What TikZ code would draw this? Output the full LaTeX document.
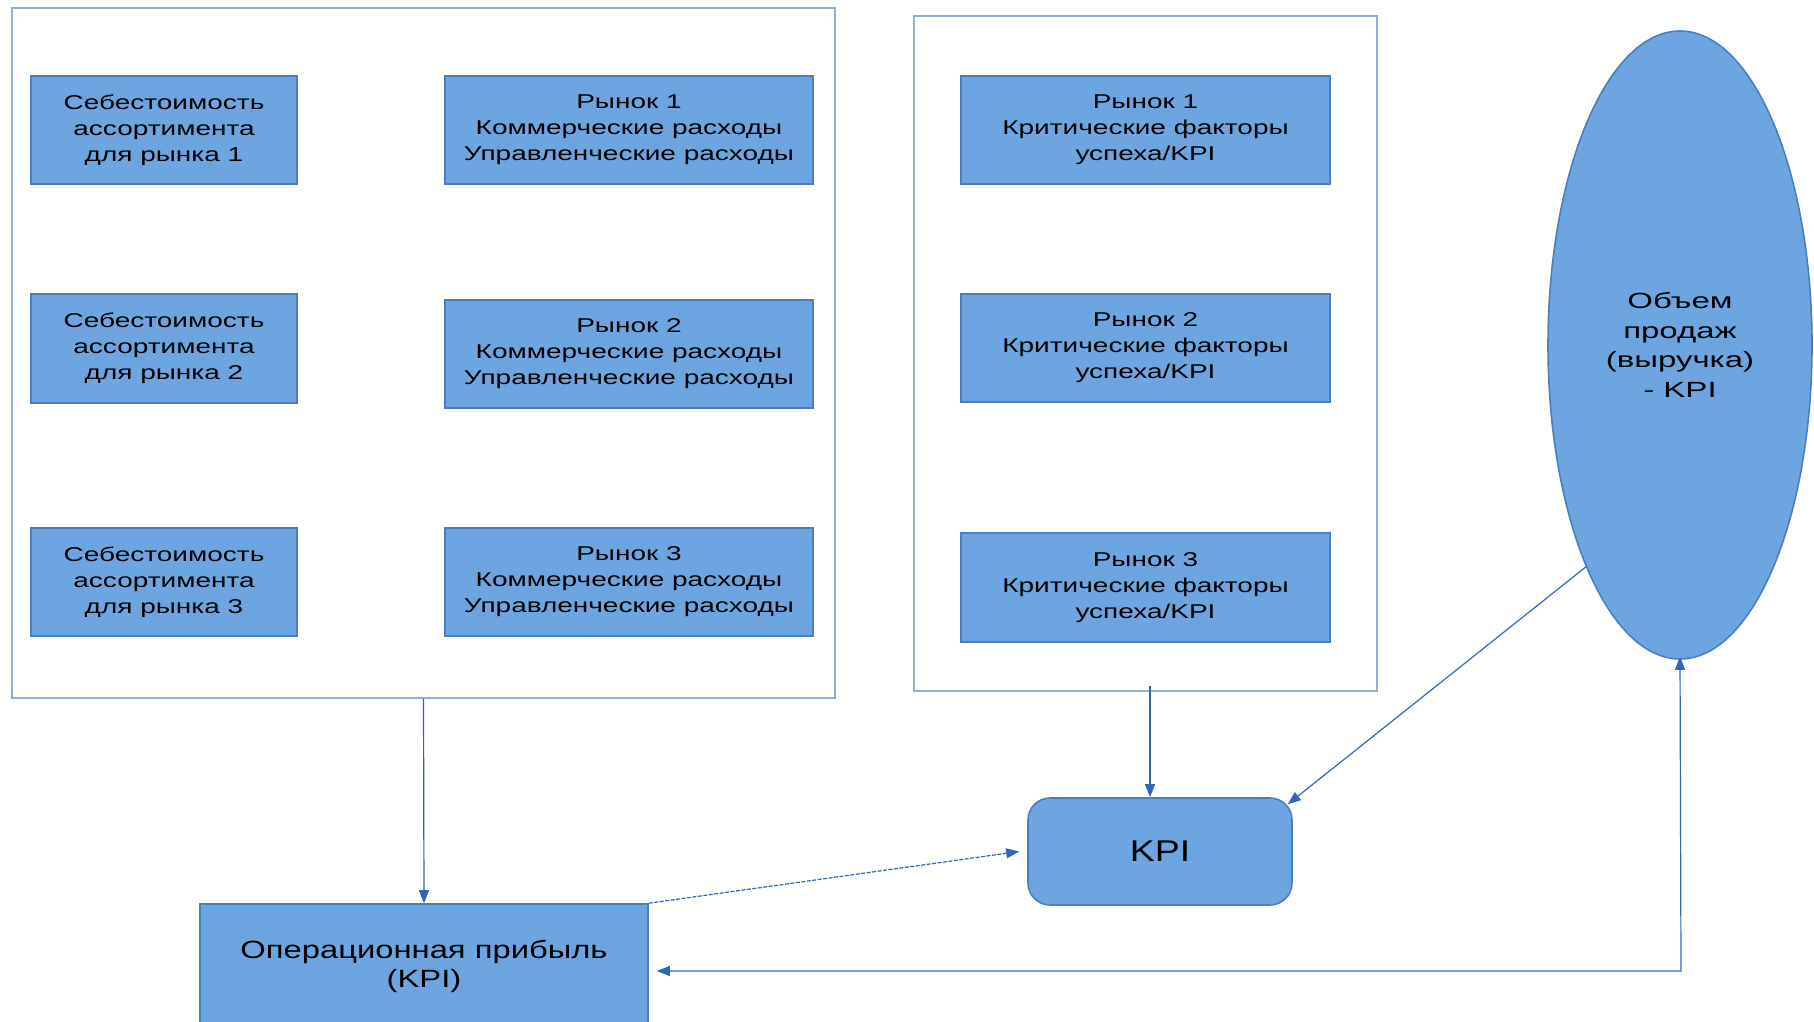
\documentclass[tikz,border=0pt]{standalone}
\usepackage{fontspec}
\setmainfont[FakeStretch=1.25]{Liberation Sans}
\newfontfamily\boxfont[FakeStretch=1.4]{Liberation Sans}
\newfontfamily\ellfont[FakeStretch=1.5]{Liberation Sans}
\newfontfamily\opfont[FakeStretch=1.31]{Liberation Sans}
\usetikzlibrary{arrows.meta,shapes.geometric,calc}
\definecolor{boxfill}{HTML}{6CA5DF}
\definecolor{boxline}{HTML}{4A7EC2}
\definecolor{frameline}{HTML}{8FAEDC}
\definecolor{arrowline}{HTML}{2E67B6}
\begin{document}
\begin{tikzpicture}[x=1pt,y=-1pt,
  box/.style={draw=boxline,line width=1.6pt,fill=boxfill,align=center,inner sep=0pt,font=\boxfont\fontsize{20}{26}\selectfont},
  frame/.style={draw=frameline,line width=1.4pt,inner sep=0pt},
  conn/.style={draw=arrowline,line width=1.2pt,-{Triangle[length=13pt,width=10pt]}},
  connb/.style={draw=arrowline,line width=1.2pt,{Triangle[length=13pt,width=10pt]}-{Triangle[length=13pt,width=10pt]}}]
\useasboundingbox (0,0) rectangle (1814,1022);
\begin{scope}
\clip (0,0) rectangle (1814,1022);
\node[frame,minimum width=823pt,minimum height=690pt] (frameL) at (423.5,353) {};
\node[frame,minimum width=463pt,minimum height=675pt] (frameM) at (1145.5,353.5) {};
\node[box,minimum width=266pt,minimum height=108pt] (s1) at (164,130) {Себестоимость\\ассортимента\\для рынка 1};
\node[box,minimum width=266pt,minimum height=109pt] (s2) at (164,348.5) {Себестоимость\\ассортимента\\для рынка 2};
\node[box,minimum width=266pt,minimum height=108pt] (s3) at (164,582) {Себестоимость\\ассортимента\\для рынка 3};
\node[box,minimum width=368pt,minimum height=108pt] (r1) at (629,130) {Рынок 1\\Коммерческие расходы\\Управленческие расходы};
\node[box,minimum width=368pt,minimum height=108pt] (r2) at (629,354) {Рынок 2\\Коммерческие расходы\\Управленческие расходы};
\node[box,minimum width=368pt,minimum height=108pt] (r3) at (629,582) {Рынок 3\\Коммерческие расходы\\Управленческие расходы};
\node[box,minimum width=369pt,minimum height=108pt] (k1) at (1145.5,130) {Рынок 1\\Критические факторы\\успеха/KPI};
\node[box,minimum width=369pt,minimum height=108pt] (k2) at (1145.5,348) {Рынок 2\\Критические факторы\\успеха/KPI};
\node[box,minimum width=369pt,minimum height=109pt] (k3) at (1145.5,587.5) {Рынок 3\\Критические факторы\\успеха/KPI};
\node[box,ellipse,minimum width=264pt,minimum height=628pt,font=\ellfont\fontsize{22}{29.5}\selectfont] (ell) at (1680,345) {Объем\\продаж\\(выручка)\\- KPI};
\node[box,rounded corners=22pt,minimum width=264pt,minimum height=107pt,font=\rmfamily\fontsize{30}{34}\selectfont] (kpi) at (1160,851.5) {KPI};
\node[box,minimum width=448pt,minimum height=124pt,font=\opfont\fontsize{25}{29}\selectfont] (op) at (424,966) {Операционная прибыль\\(KPI)};
\end{scope}
\coordinate (mstart) at (1150,686);
\coordinate (corner) at (1681,971);
\draw[conn] (frameL.south) -- (op.north);
\draw[conn] (mstart) -- (mstart |- kpi.north);
\draw[conn] (ell.247) -- ($(kpi.north east)+(-5,7)$);
\draw[conn,dashed,dash pattern=on 4pt off 1.5pt] (op.north east) -- ([xshift=-8pt]kpi.west);
\draw[connb] ([xshift=8pt]op.east |- corner) -- (corner) -- ([yshift=3pt]ell.south);
\end{tikzpicture}
\end{document}
